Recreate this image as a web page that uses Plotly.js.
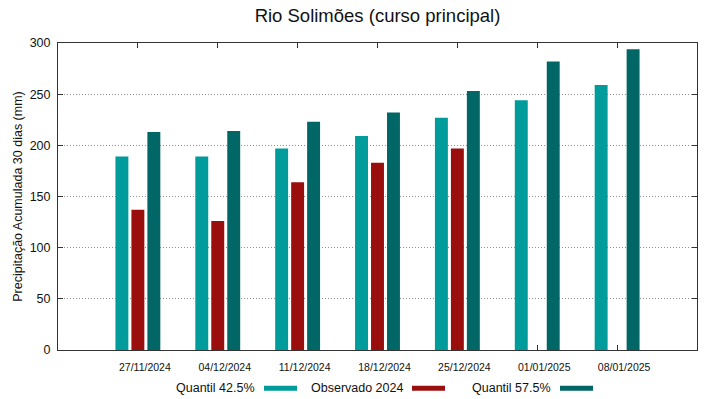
<!DOCTYPE html>
<html><head><meta charset="utf-8">
<script src="https://cdn.plot.ly/plotly-3.0.1.min.js"></script>
<style>html,body{margin:0;padding:0;background:#fff}#chart{width:719px;height:399px}</style>
</head><body><div id="chart"></div>
<script>
const categories = ["27/11/2024","04/12/2024","11/12/2024","18/12/2024","25/12/2024","01/01/2025","08/01/2025"];
const q425 = [189, 189, 197, 209, 227, 244, 259];
const obs2024 = [137, 126, 164, 183, 197, null, null];
const q575 = [213, 214, 223, 232, 253, 282, 294];
const seriesNames = ["Quantil 42.5%", "Observado 2024", "Quantil 57.5%"];
const seriesColors = ["#009b9b", "#9b0e0e", "#006666"];
const yTicks = [0, 50, 100, 150, 200, 250, 300];

const idx = categories.map((c, i) => i);
const series = [q425, obs2024, q575];
const traces = series.map((s, k) => ({
  type: "bar", x: idx, y: s, name: seriesNames[k],
  marker: {color: seriesColors[k], line: {width: 0}},
  showlegend: false, hoverinfo: "y"
}));

// custom legend (text then swatch), placed in paper coords below plot
const legendText = [[176, 297], [309, 445], [472, 593]]; // px: text start, swatch end
const plotL = 58, plotW = 719 - 58 - 22, plotT = 43, plotH = 399 - 43 - 49;
const px2x = p => (p - plotL) / plotW;
const py2y = p => (plotT + plotH - p) / plotH;
const annotations = [], shapes = [];
seriesNames.forEach((n, k) => {
  const swEnd = legendText[k][1];
  const swStart = swEnd - 33;
  annotations.push({xref: "paper", yref: "paper", x: px2x(swStart - 7), y: py2y(388),
    xanchor: "right", yanchor: "middle", text: n, showarrow: false,
    font: {family: "Liberation Sans, Arial, sans-serif", size: 12.5, color: "#111"}});
  shapes.push({type: "rect", xref: "paper", yref: "paper",
    x0: px2x(swStart), x1: px2x(swEnd), y0: py2y(385.7), y1: py2y(390.7),
    fillcolor: seriesColors[k], line: {width: 0}});
});

const layout = {
  width: 719, height: 399,
  margin: {l: 58, r: 22, t: 43, b: 49},
  paper_bgcolor: "#fff", plot_bgcolor: "#fff",
  font: {family: "Liberation Sans, Arial, sans-serif", color: "#111"},
  title: {text: "Rio Solimões (curso principal)", x: 0.5, xref: "paper", xanchor: "center", y: 0.962, yanchor: "middle",
    font: {size: 18.5, color: "#111"}},
  barmode: "group", bargap: 0.4, bargroupgap: 0.19,
  xaxis: {
    range: [-1, 7], tickvals: idx, ticktext: categories,
    tickfont: {size: 10.5}, ticks: "inside", ticklen: 5, tickcolor: "#333",
    showline: true, linecolor: "#333", linewidth: 1, mirror: "ticks",
    showgrid: false, zeroline: false, ticklabelshift: 7, ticklabelstandoff: 7
  },
  yaxis: {
    range: [0, 300], tickvals: yTicks, tickfont: {size: 12.5},
    ticks: "inside", ticklen: 5, tickcolor: "#333",
    showline: true, linecolor: "#333", linewidth: 1, mirror: "ticks",
    showgrid: true, gridcolor: "#8f8f8f", griddash: "1px,2px", gridwidth: 1,
    zeroline: false, ticklabelstandoff: 4,
    title: {text: "Precipitação Acumulada 30 dias (mm)", font: {size: 12.5}, standoff: 4}
  },
  annotations: annotations, shapes: shapes
};
Plotly.newPlot("chart", traces, layout, {displayModeBar: false, staticPlot: true});
</script></body></html>
